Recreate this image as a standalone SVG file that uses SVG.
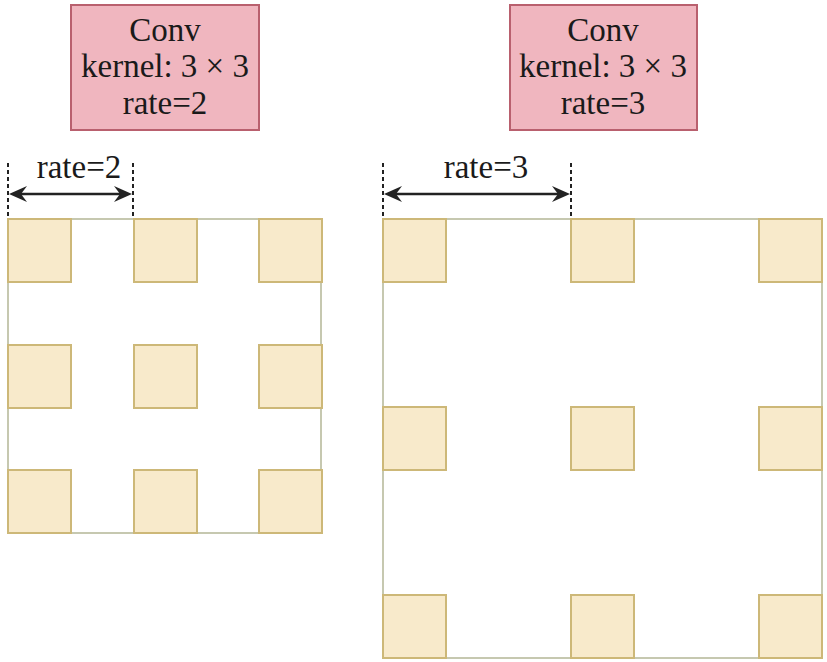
<svg xmlns="http://www.w3.org/2000/svg" width="827" height="662" viewBox="0 0 827 662">
<defs>
<style>
.box{fill:#F0B6BF;stroke:#B9606E;stroke-width:2}
.cell{fill:#F8EACB;stroke:#CDB878;stroke-width:2}
.grid{fill:none;stroke:#C6C8B0;stroke-width:2}
.t{font-family:"Liberation Serif","Times New Roman",serif;font-size:33px;fill:#1a1a1a;text-anchor:middle}
.dash{stroke:#222;stroke-width:2;stroke-dasharray:4 3}
.arr{stroke:#222;stroke-width:2.5;fill:none}
.head{fill:#222}
</style>
<path id="hd" d="M0,0 L-18,-8 L-12,0 L-18,8 Z"/>
</defs>
<rect width="827" height="662" fill="#fff"/>
<g id="conv1">
<rect class="box" x="71" y="5" width="188" height="125"/>
<text class="t" x="165" y="41">Conv</text>
<text class="t" x="165" y="77">kernel: 3 × 3</text>
<text class="t" x="165" y="114">rate=2</text>
</g>
<g id="conv2">
<rect class="box" x="510" y="5" width="187" height="125"/>
<text class="t" x="603" y="41">Conv</text>
<text class="t" x="603" y="77">kernel: 3 × 3</text>
<text class="t" x="603" y="114">rate=3</text>
</g>
<g id="grid1">
<rect class="grid" x="8" y="219" width="313" height="314"/>
<rect class="cell" x="8" y="219" width="63" height="63"/>
<rect class="cell" x="134" y="219" width="63" height="63"/>
<rect class="cell" x="259" y="219" width="63" height="63"/>
<rect class="cell" x="8" y="345" width="63" height="63"/>
<rect class="cell" x="134" y="345" width="63" height="63"/>
<rect class="cell" x="259" y="345" width="63" height="63"/>
<rect class="cell" x="8" y="470" width="63" height="63"/>
<rect class="cell" x="134" y="470" width="63" height="63"/>
<rect class="cell" x="259" y="470" width="63" height="63"/>
</g>
<g id="grid2">
<rect class="grid" x="383" y="219" width="439" height="439"/>
<rect class="cell" x="383" y="219" width="63" height="63"/>
<rect class="cell" x="571" y="219" width="63" height="63"/>
<rect class="cell" x="759" y="219" width="63" height="63"/>
<rect class="cell" x="383" y="407" width="63" height="63"/>
<rect class="cell" x="571" y="407" width="63" height="63"/>
<rect class="cell" x="759" y="407" width="63" height="63"/>
<rect class="cell" x="383" y="595" width="63" height="63"/>
<rect class="cell" x="571" y="595" width="63" height="63"/>
<rect class="cell" x="759" y="595" width="63" height="63"/>
</g>
<g id="connectors">
<line class="dash" x1="8" y1="163" x2="8" y2="219"/>
<line class="dash" x1="133" y1="163" x2="133" y2="219"/>
<line class="arr" x1="18" y1="194" x2="123" y2="194"/>
<use href="#hd" class="head" transform="translate(132,194)"/>
<use href="#hd" class="head" transform="translate(9,194) scale(-1,1)"/>
<line class="dash" x1="383" y1="163" x2="383" y2="219"/>
<line class="dash" x1="571" y1="163" x2="571" y2="219"/>
<line class="arr" x1="393" y1="194" x2="561" y2="194"/>
<use href="#hd" class="head" transform="translate(570,194)"/>
<use href="#hd" class="head" transform="translate(384,194) scale(-1,1)"/>
</g>
<g id="labels">
<text class="t" x="79" y="178">rate=2</text>
<text class="t" x="486" y="178">rate=3</text>
</g>
</svg>
